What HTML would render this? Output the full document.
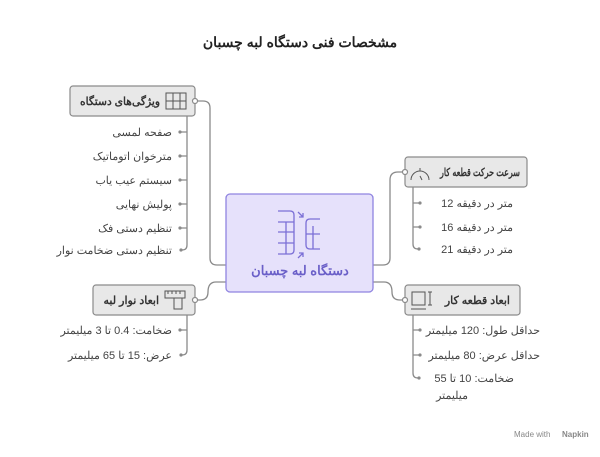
<!DOCTYPE html>
<html><head><meta charset="utf-8"><style>
body{margin:0;background:#fff;width:600px;height:452px;overflow:hidden}
svg text{font-family:"Liberation Sans","Noto Sans CJK SC",sans-serif}
</style></head><body>
<svg width="600" height="452" viewBox="0 0 600 452" xmlns="http://www.w3.org/2000/svg">
<text x="300" y="47" text-anchor="middle" font-size="14" font-weight="bold" fill="#222" direction="rtl">مشخصات فنی دستگاه لبه چسبان</text>
<g fill="none" stroke="#8a8a8a" stroke-width="1.3">
<path d="M195 101 H203 Q210 101 210 108 V258 Q210 265 217 265 H226"/>
<path d="M195 300 H200 Q208 300 208 292 Q208 282 216 282 H226"/>
<path d="M405 172 H398 Q390 172 390 180 V258 Q390 265 383 265 H373"/>
<path d="M405 300 H400 Q392 300 392 292 Q392 282 384 282 H373"/>
<path d="M187 116 V245 Q187 250 182 250"/>
<path d="M187 314 V350 Q187 355 182 355"/>
<path d="M413 186 V244 Q413 249 418 249"/>
<path d="M413 314 V373 Q413 378 418 378"/>
<path d="M180 132H187M180 156H187M180 180H187M180 204H187M180 228H187M180 330H187M413 203H420M413 227H420M413 330H420M413 355H420"/>
</g>
<g fill="#8a8a8a">
<circle cx="180" cy="132" r="1.6"/><circle cx="180" cy="156" r="1.6"/><circle cx="180" cy="180" r="1.6"/><circle cx="180" cy="204" r="1.6"/><circle cx="180" cy="228" r="1.6"/><circle cx="181" cy="250" r="1.6"/><circle cx="180" cy="330" r="1.6"/><circle cx="181" cy="355" r="1.6"/>
<circle cx="420" cy="203" r="1.6"/><circle cx="420" cy="227" r="1.6"/><circle cx="419" cy="249" r="1.6"/><circle cx="420" cy="330" r="1.6"/><circle cx="420" cy="355" r="1.6"/><circle cx="419" cy="378" r="1.6"/>
</g>
<g fill="#e8e8e8" stroke="#8a8a8a" stroke-width="1.2">
<rect x="70" y="86" width="125" height="30" rx="3"/>
<rect x="93" y="285" width="102" height="30" rx="3"/>
<rect x="405" y="157" width="122" height="30" rx="3"/>
<rect x="405" y="285" width="115" height="30" rx="3"/>
</g>
<g fill="#fff" stroke="#8a8a8a" stroke-width="1.2">
<circle cx="195" cy="101" r="2.5"/><circle cx="195" cy="300" r="2.5"/><circle cx="405" cy="172" r="2.5"/><circle cx="405" cy="300" r="2.5"/>
</g>
<rect x="226" y="194" width="147" height="98" rx="4" fill="#e6e1fb" stroke="#8f84e0" stroke-width="1.3"/>
<g fill="none" stroke="#7b6fd6" stroke-width="1.3">
<path d="M278 211 H290 Q294 211 294 215 V250 Q294 254 290 254 H278 M278 222H294 M278 232H294 M278 243H294 M286 222V254"/>
<path d="M320 219 H310 Q306 219 306 223 V245 Q306 249 310 249 H320 M306 234H320 M313 226V249"/>
<path d="M298 212 L303 217 M303 213 V217 H299 M298 258 L303 253 M299 253 H303 V257"/>
</g>
<text x="300" y="275" text-anchor="middle" font-size="13" font-weight="bold" fill="#6a5fc8" direction="rtl">دستگاه لبه چسبان</text>
<g fill="#333" font-size="11" font-weight="bold" direction="rtl" text-anchor="start">
<text x="160" y="105" textLength="80" lengthAdjust="spacingAndGlyphs">ویژگی‌های دستگاه</text>
<text x="159" y="304">ابعاد نوار لبه</text>
<text x="520" y="176" textLength="80" lengthAdjust="spacingAndGlyphs">سرعت حرکت قطعه کار</text>
<text x="510" y="304">ابعاد قطعه کار</text>
</g>
<g fill="none" stroke="#555" stroke-width="1">
<rect x="166" y="93" width="20" height="16"/><path d="M166 101H186M173 93V109M180 93V109"/>
<rect x="165" y="291" width="20" height="7"/><path d="M168 291v3M172 291v3M176 291v3M180 291v3M174 298v11h8v-11"/>
<path d="M411 180 A9 9 0 0 1 429 180 M420 171v-3M420 176l2 4"/>
<rect x="412" y="292" width="13" height="13"/><path d="M411 309H426M430 292v13M428 292h4M428 305h4"/>
</g>
<g fill="#444" font-size="11" direction="rtl" text-anchor="start">
<text x="172" y="136">صفحه لمسی</text>
<text x="172" y="160">مترخوان اتوماتیک</text>
<text x="172" y="184">سیستم عیب یاب</text>
<text x="172" y="208">پولیش نهایی</text>
<text x="172" y="232">تنظیم دستی فک</text>
<text x="172" y="254">تنظیم دستی ضخامت نوار</text>
<text x="172" y="334">ضخامت: 0.4 تا 3 میلیمتر</text>
<text x="172" y="359">عرض: 15 تا 65 میلیمتر</text>
<text x="513" y="207">متر در دقیقه 12</text>
<text x="513" y="231">متر در دقیقه 16</text>
<text x="513" y="253">متر در دقیقه 21</text>
<text x="540" y="334">حداقل طول: 120 میلیمتر</text>
<text x="540" y="359">حداقل عرض: 80 میلیمتر</text>
<text x="514" y="382">ضخامت: 10 تا 55</text>
<text x="468" y="399">میلیمتر</text>
</g>
<text x="514" y="437" font-size="8" fill="#888">Made with</text>
<text x="562" y="437" font-size="8" fill="#888" font-weight="bold">Napkin</text>
</svg>
</body></html>
